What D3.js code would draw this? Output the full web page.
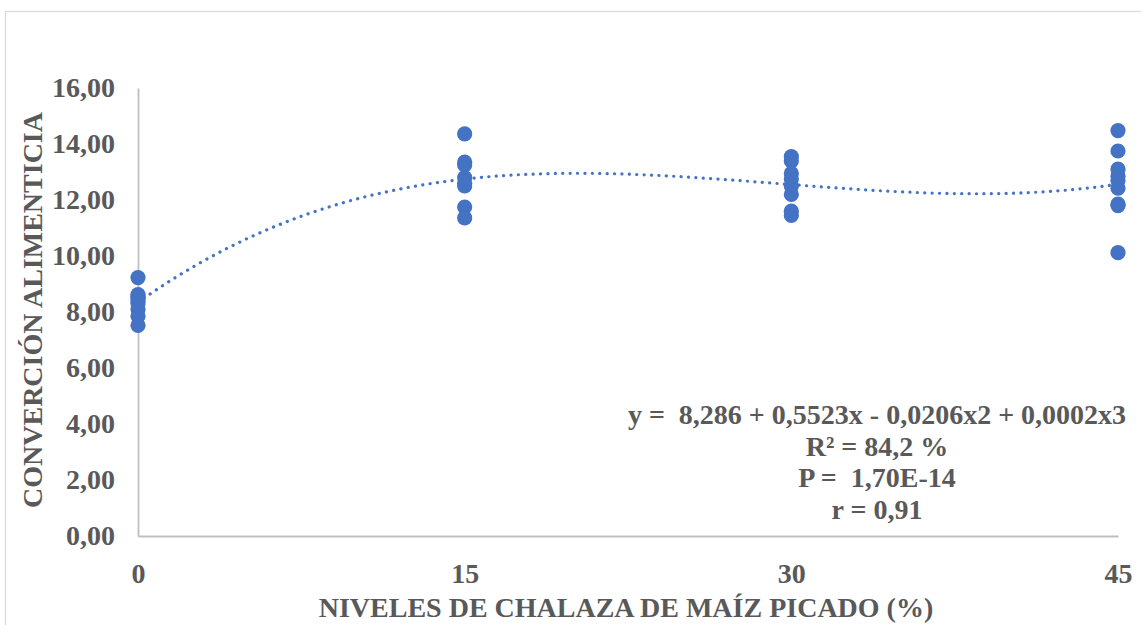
<!DOCTYPE html>
<html><head><meta charset="utf-8">
<script src="https://cdn.jsdelivr.net/npm/d3@7"></script>
<style>body{margin:0;background:#fff}svg{display:block}text{white-space:pre}</style>
</head><body>
<script>
// Data
const levels = [0, 15, 30, 45];
const values0  = [9.23, 8.62, 8.55, 8.5, 8.4, 8.3, 8.1, 7.85, 7.52];
const values15 = [14.36, 13.35, 13.25, 12.8, 12.6, 12.5, 11.75, 11.36];
const values30 = [13.55, 13.4, 12.95, 12.75, 12.5, 12.2, 11.6, 11.45];
const values45 = [14.48, 13.75, 13.1, 12.85, 12.7, 12.42, 11.85, 11.8, 10.12];
const yTicks = [0, 2, 4, 6, 8, 10, 12, 14, 16];
const xTicks = [0, 15, 30, 45];
const eqLines = ["y =  8,286 + 0,5523x - 0,0206x2 + 0,0002x3", "R² = 84,2 %", "P =  1,70E-14", "r = 0,91"];
const xTitle = "NIVELES DE CHALAZA DE MAÍZ PICADO (%)";
const yTitle = "CONVERCIÓN ALIMENTICIA";

const groups = [values0, values15, values30, values45];
const points = [];
groups.forEach((g, i) => g.forEach(v => points.push({x: levels[i], y: v})));

// least-squares cubic fit
function polyfit(pts, deg) {
  const n = deg + 1;
  const A = Array.from({length: n}, () => new Array(n + 1).fill(0));
  pts.forEach(p => {
    for (let r = 0; r < n; r++) {
      for (let c = 0; c < n; c++) A[r][c] += Math.pow(p.x, r + c);
      A[r][n] += p.y * Math.pow(p.x, r);
    }
  });
  for (let i = 0; i < n; i++) {
    let m = i;
    for (let k = i + 1; k < n; k++) if (Math.abs(A[k][i]) > Math.abs(A[m][i])) m = k;
    [A[i], A[m]] = [A[m], A[i]];
    for (let k = 0; k < n; k++) {
      if (k === i) continue;
      const f = A[k][i] / A[i][i];
      for (let c = i; c <= n; c++) A[k][c] -= f * A[i][c];
    }
  }
  return A.map((row, i) => row[n] / row[i]);
}
const coef = polyfit(points, 3);
const fitFn = x => coef.reduce((s, c, i) => s + c * Math.pow(x, i), 0);

const W = 1141, H = 625;
const svg = d3.select("body").append("svg").attr("width", W).attr("height", H);
const font = "'Liberation Serif','Times New Roman',serif";
const txtCol = "#595959";
const fs = 28;

svg.append("rect").attr("x", 5.5).attr("y", 11.5).attr("width", 1140).attr("height", 620)
  .attr("fill", "#fff").attr("stroke", "#D9D9D9").attr("stroke-width", 1.2);

const x = d3.scaleLinear().domain([0, 45]).range([138, 1118]);
const y = d3.scaleLinear().domain([0, 16]).range([536, 88]);

// axes
const yAxis = svg.append("g").attr("transform", `translate(${x(0)},0)`)
  .call(d3.axisLeft(y).tickValues(yTicks).tickSize(0).tickPadding(23)
    .tickFormat(d => d3.format(".2f")(d).replace(".", ",")));
const xAxis = svg.append("g").attr("transform", `translate(0,${y(0)})`)
  .call(d3.axisBottom(x).tickValues(xTicks).tickSize(0).tickPadding(24));
[yAxis, xAxis].forEach(g => {
  g.select(".domain").attr("stroke", "#BFBFBF").attr("stroke-width", 1.8);
  g.selectAll("text").attr("font-family", font).attr("font-weight", "bold")
    .attr("font-size", fs).attr("fill", txtCol);
});
xAxis.selectAll("text").attr("dy", "0.35em").attr("y", 37);

// trend line
const xs = d3.range(0, 45.01, 0.25);
svg.append("path").datum(xs)
  .attr("d", d3.line().x(d => x(d)).y(d => y(fitFn(d))))
  .attr("fill", "none").attr("stroke", "#4472C4").attr("stroke-width", 3.2)
  .attr("stroke-linecap", "round").attr("stroke-dasharray", "0.1 7.3");

// points
svg.append("g").selectAll("circle").data(points).join("circle")
  .attr("cx", d => x(d.x)).attr("cy", d => y(d.y)).attr("r", 7.6)
  .attr("fill", "#4472C4");

// equation text
const eq = svg.append("text").attr("font-family", font).attr("font-weight", "bold")
  .attr("font-size", fs).attr("fill", txtCol).attr("text-anchor", "middle")
  .attr("xml:space", "preserve");
eqLines.forEach((l, i) => eq.append("tspan").attr("x", 877).attr("y", 424 + i * 31.5).text(l));

// axis titles
svg.append("text").attr("x", 626).attr("y", 617).attr("text-anchor", "middle")
  .attr("font-family", font).attr("font-weight", "bold").attr("font-size", fs)
  .attr("fill", txtCol).text(xTitle);
svg.append("text").attr("transform", "translate(42,310) rotate(-90)").attr("text-anchor", "middle")
  .attr("font-family", font).attr("font-weight", "bold").attr("font-size", fs)
  .attr("fill", txtCol).text(yTitle);
</script>
</body></html>
